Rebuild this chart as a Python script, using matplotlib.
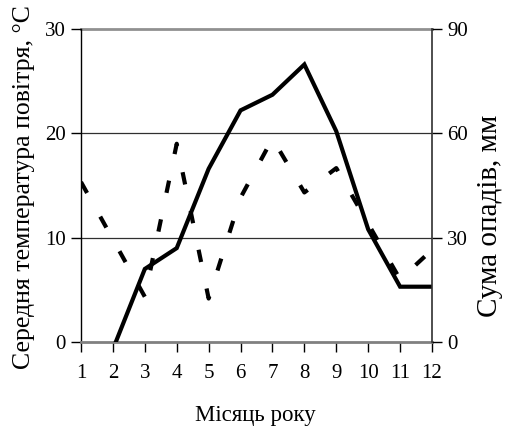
import matplotlib
matplotlib.use("Agg")
import matplotlib.pyplot as plt

months = [1, 2, 3, 4, 5, 6, 7, 8, 9, 10, 11, 12]
temperature = [-3, -0.7, 7.0, 9.0, 16.6, 22.2, 23.7, 26.6, 20.2, 10.8, 5.3, 5.3]
precipitation = [46, 29.5, 13, 57, 12.5, 41.5, 58.5, 43, 50, 34, 18, 26.5]
x_ticks = months
left_ticks = [0, 10, 20, 30]
right_ticks = [0, 30, 60, 90]
xlabel = "Місяць року"
ylabel_left = "Середня температура повітря, °С"
ylabel_right = "Сума опадів, мм"

plt.rcParams['font.family'] = ['Liberation Serif', 'DejaVu Serif']

W, H = 506, 434
fig = plt.figure(figsize=(W/100, H/100), dpi=100)
ax = fig.add_axes([81/W, 1-342/H, (432-81)/W, (342-29)/H])
ax2 = ax.twinx()

# gridlines
for v in [10, 20]:
    ax.axhline(v, color='#303030', lw=0.9, zorder=1)
ax.axhline(30, color='#909090', lw=2.0, zorder=1, clip_on=False)

ax.plot(months, temperature, color='black', lw=3.0, solid_joinstyle='miter', zorder=3)
ax2.plot(months, precipitation, color='black', lw=3.0, dashes=(3, 6.5), zorder=3)

ax.set_xlim(1, 12)
ax.set_ylim(0, 30)
ax2.set_ylim(0, 90)
ax.set_xticks(x_ticks)
ax.set_yticks(left_ticks)
ax2.set_yticks(right_ticks)

for a in (ax, ax2):
    a.tick_params(direction='out', length=7, width=1, color='black', labelsize=15, pad=4)
    a.spines['top'].set_visible(False)

ax.spines['left'].set_color('black')
ax.spines['left'].set_linewidth(1.0)
ax.spines['right'].set_visible(False)
ax2.spines['left'].set_visible(False)
ax2.spines['bottom'].set_visible(False)
ax2.spines['right'].set_color('#303030')
ax2.spines['right'].set_linewidth(1.2)
ax.spines['bottom'].set_color('#808080')
ax.spines['bottom'].set_linewidth(2.0)
ax.tick_params(axis='x', pad=9)

fig.text(255/W, 1-416/H, xlabel, fontsize=16.5, ha='center', va='center')
fig.text(24/W, 1-187/H, ylabel_left, fontsize=18.5, rotation=90, ha='center', va='center')
fig.text(490/W, 1-216/H, ylabel_right, fontsize=21, rotation=90, ha='center', va='center')

fig.savefig("out.png", dpi=100)
